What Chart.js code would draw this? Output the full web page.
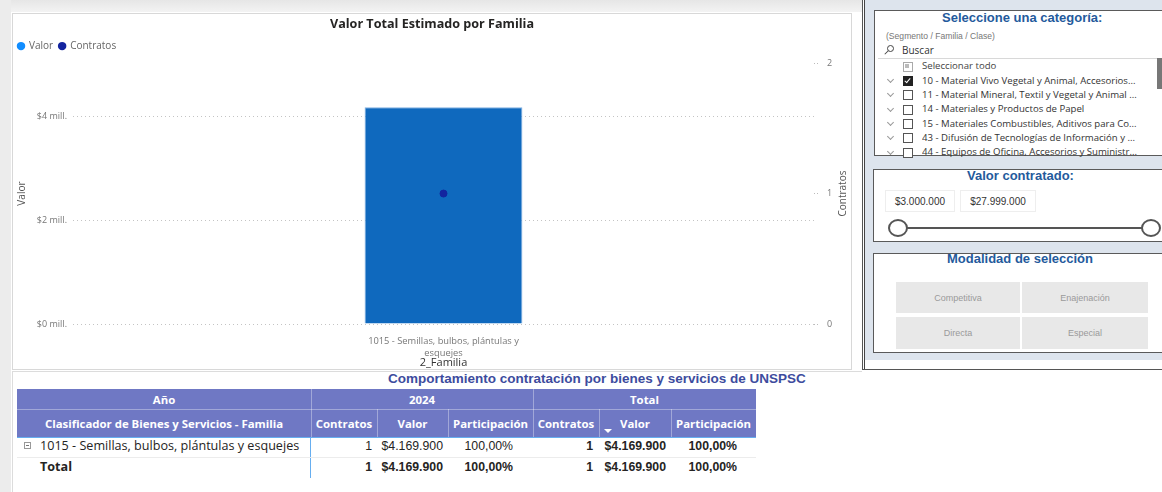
<!DOCTYPE html>
<html><head><meta charset="utf-8">
<script src="https://cdn.jsdelivr.net/npm/chart.js@4.4.1/dist/chart.umd.min.js"></script>
<style>
html,body{margin:0;padding:0;}
body{width:1162px;height:492px;position:relative;overflow:hidden;background:#fff;font-family:'Open Sans',sans-serif;}
.a{position:absolute;box-sizing:border-box;}
.t{position:absolute;white-space:nowrap;}
.hdr{position:absolute;box-sizing:border-box;color:#fff;font-weight:bold;font-size:11.4px;display:flex;align-items:center;justify-content:center;white-space:nowrap;}
.cellr{position:absolute;font-family:'Liberation Sans',Arial,sans-serif;font-size:12.3px;color:#252423;text-align:right;white-space:nowrap;line-height:14px;}
.item{position:absolute;left:922px;font-size:9.6px;color:#333;white-space:nowrap;line-height:12px;width:240px;overflow:hidden;}
.cb{position:absolute;left:903px;width:8px;height:8px;border:1px solid #555;background:#fff;}
.chev{position:absolute;left:888px;width:4px;height:4px;border-right:1px solid #999;border-bottom:1px solid #999;transform:rotate(45deg);}
.btn{position:absolute;background:#e8e8e8;color:#9a9a9a;font-family:'Liberation Sans',Arial,sans-serif;font-size:9px;display:flex;align-items:center;justify-content:center;}
.boxtitle{position:absolute;font-family:'Liberation Sans',Arial,sans-serif;font-weight:bold;font-size:13px;color:#245a9c;white-space:nowrap;line-height:16px;}
</style></head><body>

<div class="a" style="left:0;top:0;width:862px;height:12px;background:linear-gradient(#e6e6e6,#f3f3f3);"></div>
<div class="a" style="left:0;top:0;width:11px;height:492px;background:#ececec;"></div>
<div class="a" style="left:12px;top:13px;width:840px;height:357px;border:1px solid #d8d8d8;background:#fff;"></div>
<div class="a" style="left:12px;top:371px;width:850px;height:121px;border-top:1px solid #dcdcdc;border-left:1px solid #dcdcdc;background:#fff;"></div>
<div class="a" style="left:12px;top:13px;width:840px;height:357px;"><canvas id="c" width="840" height="357"></canvas></div>

<!-- right panel -->
<div class="a" style="left:865px;top:0;width:297px;height:360px;background:#dde4ed;"></div>
<div class="a" style="left:862px;top:0;width:1px;height:370px;background:#555;"></div>
<div class="a" style="left:864px;top:0;width:1px;height:370px;background:#444;"></div>
<div class="a" style="left:862px;top:369px;width:300px;height:1px;background:#555;"></div>

<div class="a" style="left:874px;top:10px;width:300px;height:146px;border:1px solid #5a5a5a;background:#fff;"></div>
<div class="boxtitle" style="left:942px;top:10px;">Seleccione una categoría:</div>
<div class="t" style="left:886px;top:31px;font-family:'Liberation Sans',Arial,sans-serif;font-size:8.6px;color:#777;line-height:10px;">(Segmento / Familia / Clase)</div>
<div class="a" style="left:887px;top:45px;width:7px;height:7px;border:1px solid #444;border-radius:50%;"></div>
<div class="a" style="left:884px;top:52px;width:5px;height:1px;background:#444;transform:rotate(-45deg);"></div>
<div class="t" style="left:902px;top:44px;font-size:10px;color:#333;line-height:13px;">Buscar</div>
<div class="a" style="left:878px;top:58px;width:284px;height:1px;background:#d8d8d8;"></div>
<div class="a" style="left:1157px;top:58px;width:5px;height:31px;background:#777;"></div>
<div id="list"></div>

<div class="a" style="left:873px;top:169px;width:300px;height:73px;border:1px solid #5a5a5a;background:#fff;"></div>
<div class="boxtitle" style="left:967px;top:168px;">Valor contratado:</div>
<div class="a" style="left:885px;top:190px;width:70px;height:22px;border:1px solid #eee;font-family:'Liberation Sans',Arial,sans-serif;font-size:10px;color:#333;display:flex;align-items:center;justify-content:center;">$3.000.000</div>
<div class="a" style="left:960px;top:190px;width:76px;height:22px;border:1px solid #eee;font-family:'Liberation Sans',Arial,sans-serif;font-size:10px;color:#333;display:flex;align-items:center;justify-content:center;">$27.999.000</div>
<div class="a" style="left:900px;top:227px;width:250px;height:2px;background:#555;"></div>
<div class="a" style="left:888px;top:219px;width:20px;height:18px;border:2px solid #555;border-radius:50%;background:#fff;"></div>
<div class="a" style="left:1141px;top:219px;width:20px;height:18px;border:2px solid #555;border-radius:50%;background:#fff;"></div>

<div class="a" style="left:873px;top:253px;width:300px;height:100px;border:1px solid #5a5a5a;background:#fff;"></div>
<div class="boxtitle" style="left:947px;top:251px;">Modalidad de selección</div>
<div class="btn" style="left:896px;top:282px;width:124px;height:31px;">Competitiva</div>
<div class="btn" style="left:1022px;top:282px;width:126px;height:31px;">Enajenación</div>
<div class="btn" style="left:896px;top:317px;width:124px;height:32px;">Directa</div>
<div class="btn" style="left:1022px;top:317px;width:126px;height:32px;">Especial</div>

<!-- table -->
<div class="t" style="left:388px;top:371px;font-family:'Liberation Sans',Arial,sans-serif;font-weight:bold;font-size:13.5px;color:#3d4c9e;line-height:16px;">Comportamiento contratación por bienes y servicios de UNSPSC</div>
<div id="tbl"></div>

<script>
// ---- data ----
const categories = ['1015 - Semillas, bulbos, plántulas y esquejes'];
const valorSeries = [4169900];
const contratosSeries = [1];
const years = ['2024'];
const valorTicks = [0, 2000000, 4000000];
const contratosTicks = [0, 1, 2];
const segmentos = [
  ['Seleccionar todo', 'all'],
  ['10 - Material Vivo Vegetal y Animal, Accesorios...', 'on'],
  ['11 - Material Mineral, Textil y Vegetal y Animal ...', 'off'],
  ['14 - Materiales y Productos de Papel', 'off'],
  ['15 - Materiales Combustibles, Aditivos para Co...', 'off'],
  ['43 - Difusión de Tecnologías de Información y ...', 'off'],
  ['44 - Equipos de Oficina, Accesorios y Suministr...', 'off']
];

// ---- slicer list ----
(function(){
  const list = document.getElementById('list');
  let html = '';
  segmentos.forEach((s, i) => {
    const cy = 66.7 + i * 14.35;
    if (s[1] !== 'all') html += `<div class="chev" style="top:${cy-4}px"></div>`;
    if (s[1] === 'all') html += `<div class="cb" style="top:${cy-5}px;border-color:#aaa;"><div style="position:absolute;left:1px;top:1px;width:4px;height:4px;background:#bbb"></div></div>`;
    else if (s[1] === 'on') html += `<div class="cb" style="top:${cy-5}px;background:#222;border-color:#222;"><div style="position:absolute;left:2px;top:0px;width:2px;height:5px;border-right:1.5px solid #fff;border-bottom:1.5px solid #fff;transform:rotate(40deg)"></div></div>`;
    else html += `<div class="cb" style="top:${cy-5}px"></div>`;
    html += `<div class="item" style="top:${cy-6.5}px;${s[1]==='all'?'color:#444':''}">${s[0]}</div>`;
  });
  list.innerHTML = html;
})();

// ---- table ----
(function(){
  const el = document.getElementById('tbl');
  const cols = [17, 311, 377, 448, 533, 599, 671, 756];
  const hc = '#6f78c4';
  let h = '';
  h += `<div class="a" style="left:17px;top:389px;width:739px;height:48px;background:${hc}"></div>`;
  h += `<div class="a" style="left:17px;top:409px;width:739px;height:1px;background:rgba(255,255,255,0.35)"></div>`;
  [311, 533].forEach(x => h += `<div class="a" style="left:${x}px;top:389px;width:1px;height:20px;background:rgba(255,255,255,0.35)"></div>`);
  [311, 377, 448, 533, 599, 671].forEach(x => h += `<div class="a" style="left:${x}px;top:409px;width:1px;height:28px;background:rgba(255,255,255,0.35)"></div>`);
  h += `<div class="hdr" style="left:17px;top:389px;width:294px;height:20px;">Año</div>`;
  h += `<div class="hdr" style="left:311px;top:389px;width:222px;height:20px;">${years[0]}</div>`;
  h += `<div class="hdr" style="left:533px;top:389px;width:223px;height:20px;">Total</div>`;
  h += `<div class="hdr" style="left:17px;top:409px;width:294px;height:28px;">Clasificador de Bienes y Servicios - Familia</div>`;
  const sub = ['Contratos', 'Valor', 'Participación', 'Contratos', 'Valor', 'Participación'];
  sub.forEach((s, i) => h += `<div class="hdr" style="left:${cols[i+1]}px;top:409px;width:${cols[i+2]-cols[i+1]}px;height:28px;">${s}</div>`);
  // sort arrow
  h += `<div class="a" style="left:604px;top:429px;width:0;height:0;border-left:4px solid transparent;border-right:4px solid transparent;border-top:4px solid #fff"></div>`;
  h += `<div class="a" style="left:17px;top:437px;width:739px;height:1px;background:#66aef0"></div>`;
  h += `<div class="a" style="left:310px;top:437px;width:1px;height:41px;background:#66aef0"></div>`;
  h += `<div class="a" style="left:17px;top:457px;width:739px;height:1px;background:#ececec"></div>`;
  const fmt = v => '$' + v.toString().replace(/\B(?=(\d{3})+(?!\d))/g, '.');
  const totV = valorSeries.reduce((a, b) => a + b, 0);
  const totC = contratosSeries.reduce((a, b) => a + b, 0);
  const pct = v => (v / totV * 100).toFixed(2).replace('.', ',') + '%';
  function row(cy, name, c, v, bold, boldTot) {
    let r = '';
    const fw = bold ? 'bold' : 'normal';
    const fw2 = (bold || boldTot) ? 'bold' : 'normal';
    r += `<div class="t" style="left:40px;top:${cy-9}px;font-size:12.6px;line-height:18px;color:#252423;font-weight:${fw}">${name}</div>`;
    r += `<div class="cellr" style="right:${1162-372}px;top:${cy-7}px;font-weight:${fw}">${c}</div>`;
    r += `<div class="cellr" style="right:${1162-443}px;top:${cy-7}px;font-weight:${fw}">${fmt(v)}</div>`;
    r += `<div class="cellr" style="right:${1162-513}px;top:${cy-7}px;font-weight:${fw}">${pct(v)}</div>`;
    r += `<div class="cellr" style="right:${1162-593}px;top:${cy-7}px;font-weight:${fw2}">${c}</div>`;
    r += `<div class="cellr" style="right:${1162-666}px;top:${cy-7}px;font-weight:${fw2}">${fmt(v)}</div>`;
    r += `<div class="cellr" style="right:${1162-737}px;top:${cy-7}px;font-weight:${fw2}">${pct(v)}</div>`;
    return r;
  }
  categories.forEach((cat, i) => {
    h += `<div class="a" style="left:24px;top:442px;width:7px;height:7px;border:1px solid #999;"><div style="position:absolute;left:1px;top:2px;width:3px;height:1px;background:#777"></div></div>`;
    h += row(446 + i * 21, cat, contratosSeries[i], valorSeries[i], false, true);
  });
  h += row(467, 'Total', totC, totV, true, true);
  el.innerHTML = h;
})();

// ---- chart ----
function wrapLabel(s, n) {
  const words = s.split(' '); const lines = []; let cur = '';
  words.forEach(w => { if ((cur + ' ' + w).trim().length > n) { lines.push(cur); cur = w; } else cur = (cur + ' ' + w).trim(); });
  if (cur) lines.push(cur);
  return lines;
}
Chart.defaults.font.family = "'Open Sans', sans-serif";
const rightTitle = {
  id: 'rightTitle',
  afterDraw(chart) {
    const ctx = chart.ctx, a = chart.chartArea;
    ctx.save();
    ctx.translate(831, (a.top + a.bottom) / 2);
    ctx.rotate(-Math.PI / 2);
    ctx.font = "10px 'Open Sans', sans-serif";
    ctx.fillStyle = '#555';
    ctx.textAlign = 'center'; ctx.textBaseline = 'middle';
    ctx.fillText('Contratos', 0, 0);
    ctx.restore();
  }
};
const legendGap = {
  id: 'legendGap',
  beforeInit(chart) {
    const lg = chart.legend;
    if (!lg) return;
    const origFit = lg.fit;
    lg.fit = function () { origFit.call(this); this.height += 2; };
  }
};
new Chart(document.getElementById('c'), {
  data: {
    labels: categories,
    datasets: [
      { type: 'bar', label: 'Valor', data: valorSeries, yAxisID: 'y', backgroundColor: '#0F69BE', borderColor: '#7fb0e2', borderWidth: 1, categoryPercentage: 1, barPercentage: 0.213, order: 1 },
      { type: 'line', label: 'Contratos', data: contratosSeries, yAxisID: 'y1', showLine: false, pointRadius: 3.5, pointBackgroundColor: '#13249F', pointBorderColor: '#13249F', backgroundColor: '#13249F', borderColor: '#13249F', order: 0 }
    ]
  },
  options: {
    responsive: false, animation: false,
    layout: { padding: { top: 3, left: 0, right: 0, bottom: 0 } },
    plugins: {
      title: { display: true, text: 'Valor Total Estimado por Familia', color: '#252423', font: { size: 12.6, weight: 'bold' }, padding: { top: 1, bottom: 3 } },
      legend: {
        position: 'top', align: 'start',
        labels: {
          usePointStyle: true, pointStyle: 'circle', boxWidth: 6, boxHeight: 6, padding: 6, color: '#666', font: { size: 10 },
          sort: (a, b) => a.datasetIndex - b.datasetIndex,
          generateLabels(chart) {
            const items = Chart.defaults.plugins.legend.labels.generateLabels(chart);
            items.forEach(it => { const c = it.datasetIndex === 0 ? '#118DFF' : '#13249F'; it.fillStyle = c; it.strokeStyle = c; it.lineWidth = 0; it.pointStyle = 'circle'; });
            return items;
          }
        }
      },
      tooltip: { enabled: false }
    },
    scales: {
      x: {
        grid: { display: false }, border: { display: false },
        ticks: { padding: 4, color: '#777', font: { size: 9.3, lineHeight: 1.25 }, maxRotation: 0, autoSkip: false,
          callback: function (v) { return wrapLabel(this.getLabelForValue(v), 36); } },
        title: { display: true, text: '2_Familia', color: '#333', font: { size: 11 }, padding: { top: 0, bottom: 1 } },
        afterFit: s => { s.height = 46; }
      },
      y: {
        position: 'left', min: 0, max: 5.02e6,
        afterBuildTicks: s => { s.ticks = valorTicks.map(v => ({ value: v })); },
        grid: { color: '#c4c4c4', drawTicks: false },
        border: { display: false, dash: [1, 3] },
        ticks: { padding: 6, color: '#777', font: { size: 9 }, callback: v => '$' + (v / 1e6) + ' mill.' },
        title: { display: true, text: 'Valor', color: '#555', font: { size: 10 }, padding: { top: 4, bottom: 0 } },
        afterFit: s => { s.width = 61; }
      },
      y1: {
        position: 'right', min: 0, max: 2,
        afterBuildTicks: s => { s.ticks = contratosTicks.map(v => ({ value: v })); },
        grid: { drawOnChartArea: false, drawTicks: true, tickLength: 5, tickColor: '#bbb', tickBorderDash: [1, 2] },
        border: { display: false },
        ticks: { padding: 8, color: '#777', font: { size: 9 } },
        afterFit: s => { s.width = 38; }
      }
    }
  },
  plugins: [rightTitle, legendGap]
});
</script>
</body></html>
